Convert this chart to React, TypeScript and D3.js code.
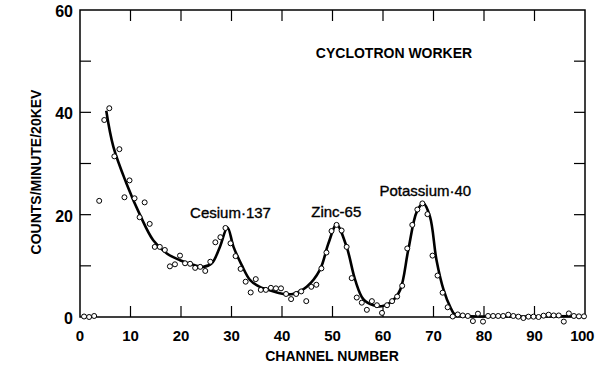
import React from 'react';
import * as d3 from 'd3';

// measured counts, one per channel (1..100)
const channels = d3.range(1, 101);
const counts = [
  0.1, 0.0, 0.2, 22.7, 38.5, 40.8, 31.4, 32.8, 23.4, 26.7,
  23.2, 19.5, 22.4, 18.2, 13.7, 13.7, 13.1, 9.9, 10.3, 12.0,
  10.5, 10.4, 9.6, 9.8, 9.0, 10.8, 14.6, 15.6, 17.4, 14.4,
  11.9, 9.4, 6.9, 4.8, 7.4, 5.3, 5.3, 5.7, 5.6, 5.6,
  4.5, 3.5, 4.5, 5.0, 3.1, 5.9, 6.3, 9.5, 12.6, 16.8,
  18.0, 16.9, 13.7, 7.6, 3.8, 2.8, 1.4, 3.1, 2.3, 0.8,
  2.3, 3.1, 4.0, 6.1, 13.4, 18.0, 21.0, 22.2, 20.1, 12.0,
  8.1, 4.75, 1.9, 0.1, 0.5, 0.3, 0.2, -0.8, 0.65, -0.9,
  0.2, 0.2, 0.2, 0.2, 0.45, 0.2, 0.07, -0.2, 0.07, 0.07,
  0.0, 0.26, 0.45, 0.3, 0.3, -0.9, 0.7, 0.2, 0.13, 0.13,
];

// hand-drawn fitted curve
const fitChannels = [
  5.2, 6.6, 9.2, 11.9, 14.5, 17.2, 19.8, 22.4, 24.4, 26.1, 27.7, 29.2, 30.4, 32,
  33.7, 35.6, 37, 40.3, 42.2, 44.9, 47.5, 49.2, 50.8, 52.8, 54.5, 56.1, 58.1,
  59.7, 61.7, 63.4, 65, 66.7, 68, 69.3, 70.6, 72, 73.3, 74.3, 76, 99,
];
const fitValues = [
  40.3, 33.3, 26.1, 19.9, 15.0, 12.4, 11.1, 10.2, 9.8, 10.5, 13.7, 17.5, 13.7, 10.2,
  7.2, 5.9, 5.4, 4.5, 4.5, 5.9, 9.2, 14.4, 18.0, 13.7, 7.2, 3.5, 2.3,
  2.1, 3.0, 5.3, 13.1, 20.6, 22.2, 19.6, 11.1, 5.3, 2.0, 0.4, 0.2, 0.2,
];

const xTicks = d3.range(0, 101, 10);
const yTicks = d3.range(0, 61, 10);
const yLabels = [0, 20, 40, 60];

const peaks = [
  { name: 'Cesium·137', channel: 21.8, value: 19.3 },
  { name: 'Zinc-65', channel: 45.8, value: 19.6 },
  { name: 'Potassium·40', channel: 59.3, value: 23.6 },
];

const W = 595;
const H = 366;
const font = '"Liberation Sans", Arial, sans-serif';

export default function App() {
  const x = d3.scaleLinear().domain([0, 100]).range([80, 585]);
  const y = d3.scaleLinear().domain([0, 60]).range([317, 10]);
  const [x0, x1] = x.range();
  const [y0, y1] = y.range();
  const tick = 11;

  const fit = d3
    .line<number>()
    .x((d) => x(fitChannels[d]))
    .y((d) => y(fitValues[d]))
    .curve(d3.curveCatmullRom.alpha(0.5));

  return (
    <svg
      width={W}
      height={H}
      style={{ position: 'absolute', left: 0, top: 0, background: '#fff' }}
      fontFamily={font}
    >
      {/* frame */}
      <rect x={x0} y={y1} width={x1 - x0} height={y0 - y1} fill="none" stroke="#000" strokeWidth={1.5} />

      {/* ticks, all pointing inward */}
      {xTicks.slice(1, -1).map((t) => (
        <g key={'xt' + t} stroke="#000" strokeWidth={1.2}>
          <line x1={x(t)} x2={x(t)} y1={y0} y2={y0 - tick} />
          <line x1={x(t)} x2={x(t)} y1={y1} y2={y1 + tick} />
        </g>
      ))}
      {yTicks.slice(1, -1).map((t) => (
        <g key={'yt' + t} stroke="#000" strokeWidth={1.2}>
          <line x1={x0} x2={x0 + tick} y1={y(t)} y2={y(t)} />
          <line x1={x1} x2={x1 - tick} y1={y(t)} y2={y(t)} />
        </g>
      ))}

      {/* tick labels */}
      {xTicks.map((t) => (
        <text
          key={'xl' + t}
          x={t === 100 ? x(t) - 3 : x(t)}
          y={y0 + 24}
          textAnchor="middle"
          fontSize={15}
          fontWeight="bold"
          letterSpacing={t === 100 ? -0.5 : 0}
        >
          {t}
        </text>
      ))}
      {yLabels.map((t) => (
        <text key={'yl' + t} x={x0 - 7} y={y(t) + 7} textAnchor="end" fontSize={16} fontWeight="bold">
          {t}
        </text>
      ))}

      {/* axis titles */}
      <text x={332} y={361} textAnchor="middle" fontSize={14} fontWeight="bold">
        CHANNEL NUMBER
      </text>
      <text
        transform={`translate(41, 172) rotate(-90)`}
        textAnchor="middle"
        fontSize={14}
        fontWeight="bold"
      >
        COUNTS/MINUTE/20KEV
      </text>
      <text x={394} y={58} textAnchor="middle" fontSize={14} fontWeight="bold">
        CYCLOTRON WORKER
      </text>

      {/* fitted curve */}
      <path d={fit(d3.range(fitChannels.length)) ?? ''} fill="none" stroke="#000" strokeWidth={2.6} />

      {/* measured points */}
      {channels.map((c, i) => (
        <circle key={c} cx={x(c) - 1} cy={y(counts[i])} r={2.5} fill="#fff" stroke="#000" strokeWidth={1} />
      ))}

      {/* peak labels */}
      {peaks.map((p) => (
        <text key={p.name} x={x(p.channel)} y={y(p.value)} fontSize={15} stroke="#000" strokeWidth={0.35}>
          {p.name}
        </text>
      ))}
    </svg>
  );
}
